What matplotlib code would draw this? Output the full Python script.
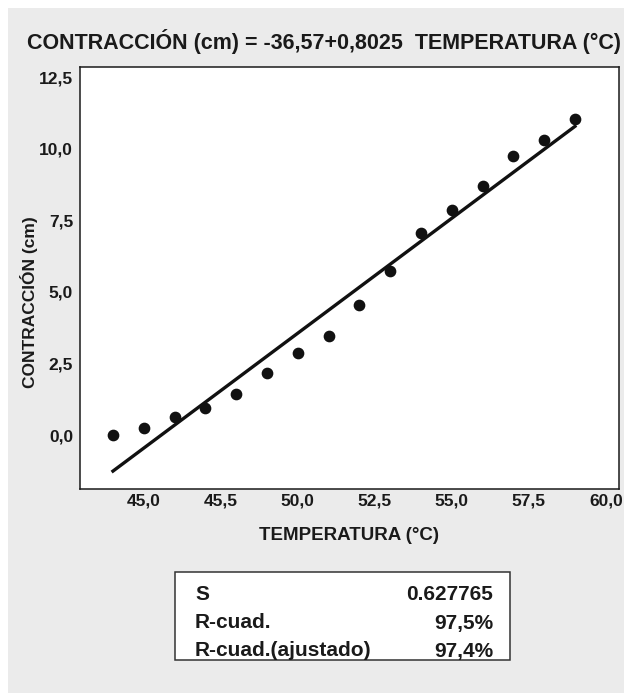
import numpy as np
import matplotlib
matplotlib.use("Agg")
import matplotlib.pyplot as plt
from matplotlib.patches import Rectangle

# data
temperatura = [44, 45, 46, 47, 48, 49, 50, 51, 52, 53, 54, 55, 56, 57, 58, 59]
contraccion = [0.01, 0.23, 0.64, 0.95, 1.42, 2.18, 2.85, 3.46, 4.55, 5.74,
               7.07, 7.86, 8.69, 9.74, 10.30, 11.03]
intercepto = -36.57
pendiente = 0.8025

x_ticks = [45, 47.5, 50, 52.5, 55, 57.5, 60]
x_labels = ["45,0", "45,5", "50,0", "52,5", "55,0", "57,5", "60,0"]
y_ticks = [0, 2.5, 5, 7.5, 10, 12.5]
y_labels = ["0,0", "2,5", "5,0", "7,5", "10,0", "12,5"]

stats_names = ["S", "R-cuad.", "R-cuad.(ajustado)"]
stats_values = ["0.627765", "97,5%", "97,4%"]

plt.rcParams['font.family'] = ['Liberation Sans', 'DejaVu Sans']

W, H = 624, 693
fig = plt.figure(figsize=(W / 100, H / 100), dpi=100)
fig.patch.set_facecolor('white')

# grey panel behind everything
fig.patches.append(Rectangle((8 / W, 0), 1, 1 - 8 / H, transform=fig.transFigure,
                             facecolor='#ebebeb', edgecolor='none', zorder=-10))

ax = fig.add_axes([80 / W, (H - 489) / H, 539 / W, 422 / H])
ax.set_facecolor('white')

ax.scatter(temperatura, contraccion, s=55, color='#111111', zorder=3)
xf = np.array([temperatura[0], temperatura[-1]])
ax.plot(xf, intercepto + pendiente * xf, color='#111111', linewidth=2.4, zorder=2)

ax.set_xlim(42.93, 60.43)
ax.set_ylim(-1.885, 12.85)
ax.set_xticks(x_ticks)
ax.set_xticklabels(x_labels)
ax.set_yticks(y_ticks)
ax.set_yticklabels(y_labels)
ax.tick_params(length=0, labelsize=12.5)
ax.tick_params(axis='x', pad=3)
ax.tick_params(axis='y', pad=5)
for lab in ax.get_xticklabels() + ax.get_yticklabels():
    lab.set_fontweight('bold')
    lab.set_color('#1a1a1a')
for sp in ax.spines.values():
    sp.set_linewidth(1.1)
    sp.set_color('#1a1a1a')

fig.text(324 / W, 1 - 42 / H, "CONTRACCIÓN (cm) = -36,57+0,8025  TEMPERATURA (°C)",
         ha='center', va='center', fontsize=15.5, fontweight='bold', color='#1a1a1a')
fig.text(349 / W, 1 - 536 / H, "TEMPERATURA (°C)", ha='center', va='center',
         fontsize=13.5, fontweight='bold', color='#1a1a1a')
fig.text(29 / W, 1 - 302 / H, "CONTRACCIÓN (cm)", ha='center', va='center',
         rotation=90, fontsize=12.5, fontweight='bold', color='#1a1a1a')

# statistics box
fig.patches.append(Rectangle((175 / W, 1 - 660 / H), 335 / W, 88 / H,
                             transform=fig.transFigure, facecolor='white',
                             edgecolor='#333333', linewidth=1.1, zorder=1))
rows_y = [594, 623, 651]
for name, val, yy in zip(stats_names, stats_values, rows_y):
    fig.text(195 / W, 1 - yy / H, name, ha='left', va='center', fontsize=15,
             fontweight='bold', color='#1a1a1a')
    fig.text(493 / W, 1 - yy / H, val, ha='right', va='center', fontsize=15,
             fontweight='bold', color='#1a1a1a')

fig.savefig("out.png", dpi=100)
